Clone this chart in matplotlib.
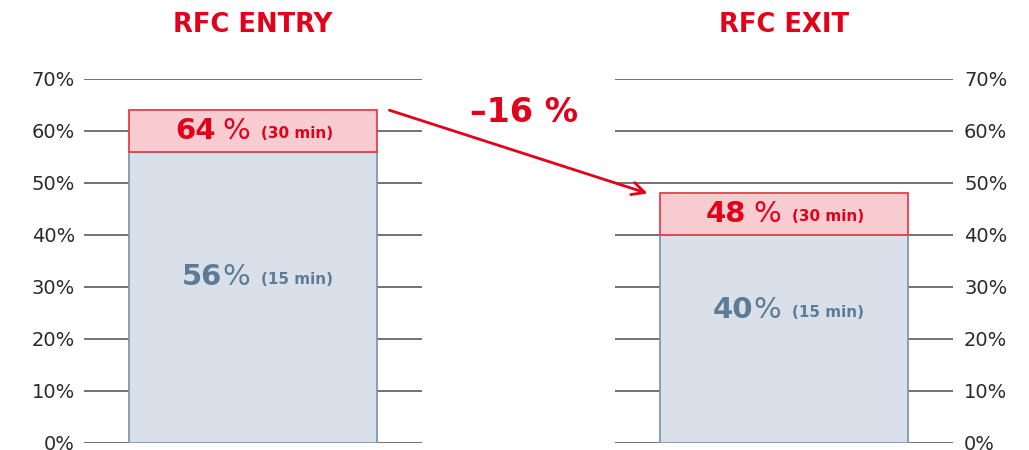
import matplotlib
matplotlib.use("Agg")
import matplotlib.pyplot as plt
from matplotlib.patches import ConnectionPatch

plt.rcParams['font.family'] = ['DejaVu Sans']

# data
panels = ['RFC ENTRY', 'RFC EXIT']
base_values = [56, 40]      # 15 min
top_values = [64, 48]       # 30 min
base_labels = ['(15 min)', '(15 min)']
top_labels = ['(30 min)', '(30 min)']
change_label = '–16 %'
yticks = [0, 10, 20, 30, 40, 50, 60, 70]

RED = '#e2001a'
RED_FILL = '#f9ccd1'
RED_EDGE = '#e3404d'
BLUE_FILL = '#d9e0ea'
BLUE_EDGE = '#8097ad'
BLUE_TEXT = '#5e7b95'
GRID = '#5a5a5a'

# vertical placement of the 15 min label, fraction of the bar
label_frac = [0.57, 0.64]

fig = plt.figure(figsize=(10.29, 4.5), dpi=100)
ax_left = fig.add_axes([84 / 1029, 7 / 450, 338 / 1029, 364 / 450])
ax_right = fig.add_axes([615 / 1029, 7 / 450, 338 / 1029, 364 / 450])
axes = [ax_left, ax_right]

half = 0.5 * 338 / 248
for i, ax in enumerate(axes):
    ax.set_xlim(-half, half)
    ax.set_ylim(0, 70)
    for s in ax.spines.values():
        s.set_visible(False)
    ax.set_xticks([])
    ax.set_yticks(yticks)
    ax.set_yticklabels([f'{t}%' for t in yticks], fontsize=14, color='#2a2a2a')
    ax.tick_params(axis='y', length=0, pad=6.5)
    if i == 1:
        ax.yaxis.tick_right()
        ax.tick_params(axis='y', pad=8)
    for t in yticks:
        ax.axhline(t, color=GRID, lw=1.2, zorder=0, snap=True)

    b = base_values[i]
    top = top_values[i]
    ax.bar(0, b, width=1, color=BLUE_FILL, edgecolor=BLUE_EDGE, lw=1.3, zorder=2)
    ax.bar(0, top - b, bottom=b, width=1, color=RED_FILL, edgecolor=RED_EDGE,
           lw=1.3, zorder=3)

    ymid = (b + top) / 2
    ax.annotate('%', (0, ymid), xytext=(-2, 0), textcoords='offset points',
                ha='right', va='center', fontsize=21, color=RED)
    ax.annotate(f'{top}', (0, ymid), xytext=(-27, 0), textcoords='offset points',
                ha='right', va='center', fontsize=21, fontweight='bold', color=RED)
    ax.annotate(top_labels[i], (0, ymid), xytext=(6, -2), textcoords='offset points',
                ha='left', va='center', fontsize=11, fontweight='bold', color=RED)
    yb = b * label_frac[i]
    ax.annotate('%', (0, yb), xytext=(-2, 0), textcoords='offset points',
                ha='right', va='center', fontsize=21, color=BLUE_TEXT)
    ax.annotate(f'{b}', (0, yb), xytext=(-22, 0), textcoords='offset points',
                ha='right', va='center', fontsize=21, fontweight='bold', color=BLUE_TEXT)
    ax.annotate(base_labels[i], (0, yb), xytext=(6, -2), textcoords='offset points',
                ha='left', va='center', fontsize=11, fontweight='bold', color=BLUE_TEXT)

    ax.text(0, 1.148, panels[i], transform=ax.get_xaxis_transform(), ha='center',
            va='center', fontsize=18.5, fontweight='bold', color=RED)

arrow = ConnectionPatch(xyA=(0.55, top_values[0]), coordsA=ax_left.transData,
                        xyB=(-0.55, top_values[1]), coordsB=ax_right.transData,
                        arrowstyle='->,head_length=0.9,head_width=0.45',
                        color=RED, lw=2, zorder=5)
fig.add_artist(arrow)
fig.text(524 / 1029, 1 - 112 / 450, change_label, ha='center', va='center',
         fontsize=24, fontweight='bold', color=RED)

fig.savefig('out.png', dpi=100)
